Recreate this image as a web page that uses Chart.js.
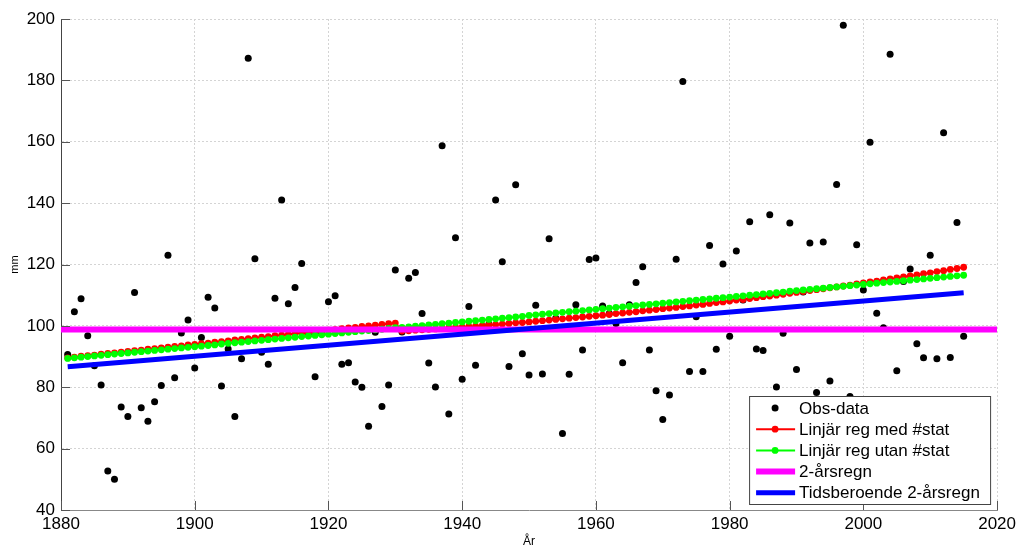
<!DOCTYPE html>
<html>
<head>
<meta charset="utf-8">
<script src="https://cdn.jsdelivr.net/npm/chart.js@4.4.0/dist/chart.umd.min.js"></script>
<style>
  html, body { margin: 0; padding: 0; background: #fff; }
  #wrap { width: 1020px; height: 549px; }
</style>
</head>
<body>
<div id="wrap"><canvas id="chart" width="1020" height="549"></canvas></div>
<script>
// years 1881-2015
const years = [
  1881, 1882, 1883, 1884, 1885, 1886, 1887, 1888, 1889, 1890,
  1891, 1892, 1893, 1894, 1895, 1896, 1897, 1898, 1899, 1900,
  1901, 1902, 1903, 1904, 1905, 1906, 1907, 1908, 1909, 1910,
  1911, 1912, 1913, 1914, 1915, 1916, 1917, 1918, 1919, 1920,
  1921, 1922, 1923, 1924, 1925, 1926, 1927, 1928, 1929, 1930,
  1931, 1932, 1933, 1934, 1935, 1936, 1937, 1938, 1939, 1940,
  1941, 1942, 1943, 1944, 1945, 1946, 1947, 1948, 1949, 1950,
  1951, 1952, 1953, 1954, 1955, 1956, 1957, 1958, 1959, 1960,
  1961, 1962, 1963, 1964, 1965, 1966, 1967, 1968, 1969, 1970,
  1971, 1972, 1973, 1974, 1975, 1976, 1977, 1978, 1979, 1980,
  1981, 1982, 1983, 1984, 1985, 1986, 1987, 1988, 1989, 1990,
  1991, 1992, 1993, 1994, 1995, 1996, 1997, 1998, 1999, 2000,
  2001, 2002, 2003, 2004, 2005, 2006, 2007, 2008, 2009, 2010,
  2011, 2012, 2013, 2014, 2015
]

// Obs-data (mm)
const obsData = [
  90.7, 104.6, 108.8, 96.8, 87.0, 80.7, 52.7, 50.0, 73.6, 70.5,
  110.9, 73.3, 68.9, 75.3, 80.6, 123.0, 83.1, 97.7, 101.9, 86.3,
  96.2, 109.3, 105.8, 80.4, 92.5, 70.5, 89.3, 187.2, 121.9, 91.4,
  87.5, 109.0, 141.0, 107.2, 112.5, 120.3, 97.0, 83.4, 97.5, 107.9,
  109.8, 87.5, 88.0, 81.7, 80.0, 67.3, 97.9, 73.7, 80.7, 118.2,
  98.0, 115.5, 117.4, 104.0, 87.9, 80.1, 158.7, 71.3, 128.7, 82.6,
  106.3, 87.2, 99.5, 100.5, 141.0, 120.9, 86.8, 146.0, 90.9, 84.0,
  106.7, 84.3, 128.4, 102.5, 64.9, 84.2, 106.9, 92.1, 121.6, 122.1,
  106.5, 104.0, 100.8, 88.0, 106.9, 114.1, 119.3, 92.1, 78.9, 69.5,
  77.5, 121.7, 179.6, 85.1, 103.0, 85.1, 126.2, 92.4, 120.2, 96.6,
  124.4, 108.4, 133.9, 92.5, 92.0, 136.2, 80.1, 97.6, 133.5, 85.8,
  111.0, 127.0, 78.3, 127.3, 82.0, 146.1, 198.0, 77.0, 126.4, 111.7,
  159.8, 104.1, 99.4, 188.5, 85.4, 114.5, 118.5, 94.2, 89.6, 123.0,
  89.3, 162.9, 89.7, 133.7, 96.6
]

// Linjär reg med #stat (red)
const regMedStat = [
  89.6, 89.8, 90.1, 90.3, 90.5, 90.8, 91.0, 91.2, 91.4, 91.7,
  91.9, 92.1, 92.4, 92.6, 92.8, 93.1, 93.3, 93.5, 93.8, 94.0,
  94.2, 94.4, 94.7, 94.9, 95.1, 95.4, 95.6, 95.8, 96.1, 96.3,
  96.5, 96.8, 97.0, 97.2, 97.5, 97.7, 97.9, 98.1, 98.4, 98.6,
  98.8, 99.1, 99.3, 99.5, 99.8, 100.0, 100.2, 100.5, 100.7, 100.9,
  98.3, 98.4, 98.6, 98.7, 98.9, 99.0, 99.1, 99.3, 99.5, 99.6,
  99.8, 99.9, 100.1, 100.3, 100.4, 100.6, 100.8, 101.0, 101.1, 101.3,
  101.5, 101.7, 101.9, 102.1, 102.3, 102.5, 102.7, 102.9, 103.1, 103.3,
  103.5, 103.7, 104.0, 104.2, 104.4, 104.6, 104.9, 105.1, 105.3, 105.6,
  105.8, 106.0, 106.3, 106.5, 106.8, 107.0, 107.3, 107.6, 107.8, 108.1,
  108.4, 108.6, 108.9, 109.2, 109.5, 109.7, 110.0, 110.3, 110.6, 110.9,
  111.2, 111.5, 111.8, 112.1, 112.4, 112.7, 113.0, 113.3, 113.7, 114.0,
  114.3, 114.6, 115.0, 115.3, 115.6, 116.0, 116.3, 116.6, 117.0, 117.3,
  117.7, 118.0, 118.4, 118.7, 119.1
]

// Linjär reg utan #stat (green)
const regUtanStat = [
  89.4, 89.6, 89.8, 90.0, 90.2, 90.4, 90.6, 90.8, 91.0, 91.2,
  91.4, 91.6, 91.8, 92.0, 92.2, 92.4, 92.6, 92.8, 93.0, 93.2,
  93.4, 93.6, 93.8, 94.1, 94.3, 94.5, 94.7, 94.9, 95.1, 95.3,
  95.5, 95.7, 95.9, 96.1, 96.3, 96.5, 96.7, 96.9, 97.1, 97.3,
  97.5, 97.7, 97.9, 98.1, 98.3, 98.5, 98.7, 98.9, 99.2, 99.4,
  99.5, 99.7, 99.9, 100.1, 100.3, 100.5, 100.7, 100.9, 101.1, 101.3,
  101.5, 101.7, 101.9, 102.1, 102.3, 102.5, 102.7, 102.9, 103.1, 103.4,
  103.6, 103.8, 104.0, 104.2, 104.4, 104.6, 104.8, 105.0, 105.2, 105.4,
  105.6, 105.8, 106.0, 106.2, 106.4, 106.6, 106.8, 107.0, 107.2, 107.4,
  107.6, 107.8, 108.0, 108.2, 108.4, 108.6, 108.8, 109.0, 109.2, 109.4,
  109.6, 109.8, 110.0, 110.2, 110.4, 110.6, 110.8, 111.0, 111.3, 111.5,
  111.7, 111.9, 112.1, 112.3, 112.5, 112.7, 112.9, 113.1, 113.3, 113.5,
  113.7, 113.9, 114.1, 114.3, 114.5, 114.7, 114.9, 115.1, 115.3, 115.5,
  115.7, 115.9, 116.1, 116.3, 116.5
]

// 2-årsregn (constant) and Tidsberoende 2-årsregn (end points)
const twoYearYears = [1880, 2020]
const twoYearValues = [98.8, 98.8]
const tidsYears = [1881, 2015]
const tidsValues = [86.7, 110.8]

const xTicks = [1880, 1900, 1920, 1940, 1960, 1980, 2000, 2020]
const yTicks = [40, 60, 80, 100, 120, 140, 160, 180, 200]

const labels = ['Obs-data', 'Linjär reg med #stat', 'Linjär reg utan #stat', '2-årsregn', 'Tidsberoende 2-årsregn']

const toPoints = (xs, ys) => xs.map((x, i) => ({ x: x, y: ys[i] }))

Chart.defaults.font.family = "'Liberation Sans', Arial, sans-serif"
Chart.defaults.color = '#000'

// inward tick marks + legend box inside the plot (like the original figure)
const matlabBits = {
  id: 'matlabBits',
  afterDraw(chart) {
    const ctx = chart.ctx
    const area = chart.chartArea
    const xs = chart.scales.x
    const ys = chart.scales.y

    ctx.save()
    ctx.strokeStyle = '#555'
    ctx.lineWidth = 1
    ctx.beginPath()
    xTicks.forEach(t => {
      const px = Math.round(xs.getPixelForValue(t)) + 0.5
      ctx.moveTo(px, area.bottom)
      ctx.lineTo(px, area.bottom - 9)
    })
    yTicks.forEach(t => {
      const py = Math.round(ys.getPixelForValue(t)) + 0.5
      ctx.moveTo(area.left, py)
      ctx.lineTo(area.left + 9, py)
    })
    ctx.stroke()

    // legend
    const boxW = 241, boxH = 108
    const bx = area.right - 7 - boxW
    const by = area.bottom - 6 - boxH
    ctx.fillStyle = '#fff'
    ctx.fillRect(bx, by, boxW, boxH)
    ctx.strokeStyle = '#444'
    ctx.strokeRect(bx + 0.5, by + 0.5, boxW, boxH)

    const ds = chart.data.datasets
    ctx.font = "17px 'Liberation Sans', Arial, sans-serif"
    ctx.textBaseline = 'middle'
    ctx.textAlign = 'left'
    ds.forEach((d, row) => {
      const cy = by + 12 + row * 21.2
      const x0 = bx + 7, x1 = bx + 46, xm = bx + 26
      if (d.showLine) {
        ctx.strokeStyle = d.borderColor
        ctx.lineWidth = d.borderWidth
        ctx.beginPath()
        ctx.moveTo(x0, cy)
        ctx.lineTo(x1, cy)
        ctx.stroke()
      }
      if (d.pointRadius > 0) {
        ctx.fillStyle = d.pointBackgroundColor
        ctx.beginPath()
        ctx.arc(xm, cy, d.pointRadius, 0, Math.PI * 2)
        ctx.fill()
      }
      ctx.fillStyle = '#000'
      ctx.fillText(d.label, bx + 50, cy + 1)
    })
    ctx.restore()
  }
}

new Chart(document.getElementById('chart'), {
  type: 'scatter',
  data: {
    datasets: [
      {
        label: labels[0],
        data: toPoints(years, obsData),
        showLine: false,
        pointRadius: 3.5,
        pointBackgroundColor: '#000',
        pointBorderWidth: 0,
        borderColor: '#000',
        order: 5
      },
      {
        label: labels[1],
        data: toPoints(years, regMedStat),
        showLine: true,
        borderColor: '#ff0000',
        borderWidth: 2,
        pointRadius: 3.4,
        pointBackgroundColor: '#ff0000',
        pointBorderWidth: 0,
        order: 4
      },
      {
        label: labels[2],
        data: toPoints(years, regUtanStat),
        showLine: true,
        borderColor: '#00ff00',
        borderWidth: 2,
        pointRadius: 3.4,
        pointBackgroundColor: '#00ff00',
        pointBorderWidth: 0,
        order: 3
      },
      {
        label: labels[3],
        data: toPoints(twoYearYears, twoYearValues),
        showLine: true,
        borderColor: '#ff00ff',
        borderWidth: 6,
        pointRadius: 0,
        order: 2
      },
      {
        label: labels[4],
        data: toPoints(tidsYears, tidsValues),
        showLine: true,
        borderColor: '#0000ff',
        borderWidth: 5,
        pointRadius: 0,
        order: 1
      }
    ]
  },
  options: {
    responsive: false,
    animation: false,
    devicePixelRatio: 1,
    layout: { padding: { top: 19, right: 21, left: 0, bottom: 0 } },
    plugins: {
      legend: { display: false },
      tooltip: { enabled: false }
    },
    scales: {
      x: {
        type: 'linear',
        min: 1880,
        max: 2020,
        afterFit: scale => { scale.height = 39 },
        afterBuildTicks: scale => { scale.ticks = xTicks.map(v => ({ value: v })) },
        ticks: { font: { size: 17 }, padding: 4, color: '#000', maxRotation: 0, callback: v => String(v) },
        grid: { color: '#d4d4d4', drawTicks: false },
        border: { display: true, color: '#888', width: 1, dash: [2, 2] },
        title: { display: true, text: 'År', font: { size: 12 }, padding: { top: 0, bottom: 0 } }
      },
      y: {
        min: 40,
        max: 200,
        afterFit: scale => { scale.width = 61 },
        afterBuildTicks: scale => { scale.ticks = yTicks.map(v => ({ value: v })) },
        ticks: { font: { size: 17 }, padding: 6, color: '#000', callback: v => String(v) },
        grid: { color: '#d4d4d4', drawTicks: false },
        border: { display: true, color: '#444', width: 1, dash: [2, 2] },
        title: { display: true, text: 'mm', font: { size: 11 }, padding: { top: 8, bottom: 0 } }
      }
    }
  },
  plugins: [matlabBits]
})
</script>
</body>
</html>
